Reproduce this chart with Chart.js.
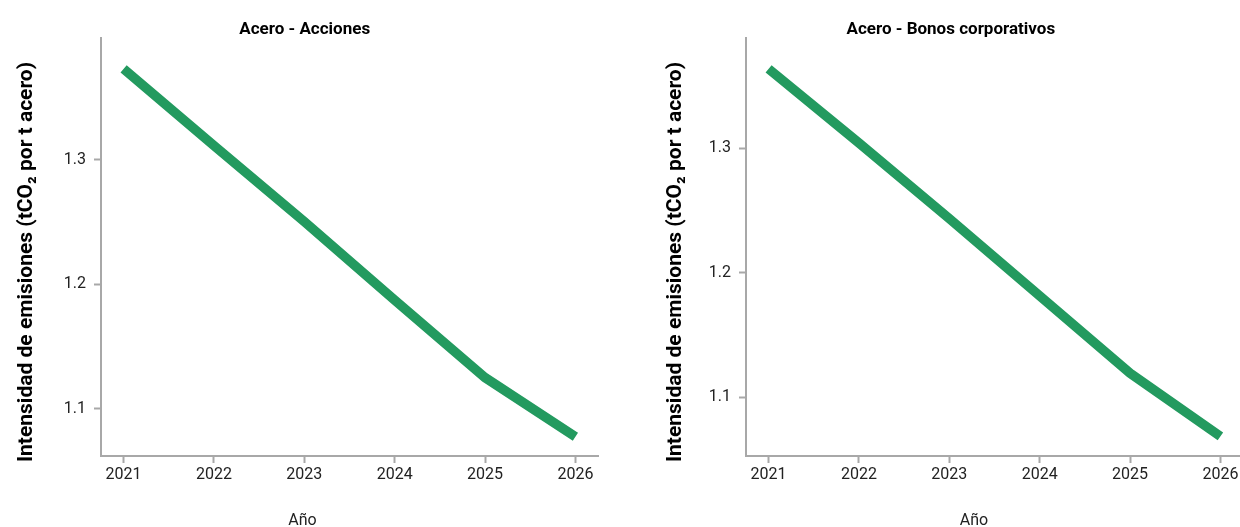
<!DOCTYPE html>
<html>
<head>
<meta charset="utf-8">
<script src="https://cdn.jsdelivr.net/npm/chart.js@4"></script>
<style>
  html, body { margin: 0; padding: 0; background: #fff; overflow: hidden; width: 1240px; height: 527px; }
  canvas { position: absolute; top: 0; }
  #c1 { left: 0; }
  #c2 { left: 620px; }
</style>
</head>
<body>
<canvas id="c1" width="620" height="527"></canvas>
<canvas id="c2" width="640" height="527"></canvas>
<script>
const years = [2021, 2022, 2023, 2024, 2025, 2026];
const accionesValues = [1.3732, 1.3116, 1.2504, 1.1874, 1.1252, 1.0776];
const bonosValues = [1.3638, 1.3043, 1.2436, 1.1815, 1.1194, 1.0687];
const yTickValues = [1.1, 1.2, 1.3];
const panelTitles = ['Acero - Acciones', 'Acero - Bonos corporativos'];
const yAxisTitle = 'Intensidad de emisiones (tCO\u2082 por t acero)';
const xAxisTitle = 'Año';

const GREEN = '#239a5f';
const AXIS = '#a8a8a8';
const FONT = 'Roboto';

function textPlugin(cfg) {
  return {
    id: 'panelTexts',
    afterDraw(chart) {
      const ctx = chart.ctx;
      ctx.save();
      ctx.fillStyle = '#000';
      ctx.textAlign = 'center';
      ctx.textBaseline = 'alphabetic';
      ctx.font = 'bold 17px ' + FONT;
      ctx.fillText(cfg.title, cfg.titleX, cfg.titleY);
      ctx.font = '16px ' + FONT;
      ctx.fillStyle = '#222';
      ctx.fillText(xAxisTitle, cfg.xTitleX, cfg.xTitleY);
      ctx.fillStyle = '#000';
      ctx.font = 'bold 21px ' + FONT;
      ctx.translate(cfg.yTitleX, cfg.yTitleY);
      ctx.rotate(-Math.PI / 2);
      ctx.fillText(yAxisTitle, 0, 0);
      ctx.restore();
    }
  };
}

function makeChart(id, values, cfg) {
  const pts = years.map((yr, i) => ({ x: yr, y: values[i] }));
  return new Chart(document.getElementById(id), {
    type: 'line',
    data: {
      datasets: [{
        data: pts,
        borderColor: GREEN,
        borderWidth: 9.5,
        borderCapStyle: 'butt',
        borderJoinStyle: 'miter',
        pointRadius: 0,
        tension: 0,
        fill: false
      }]
    },
    options: {
      responsive: false,
      animation: false,
      events: [],
      layout: { padding: { top: 38, right: cfg.padRight, left: 0, bottom: 0 } },
      plugins: { legend: { display: false }, title: { display: false }, tooltip: { enabled: false } },
      scales: {
        x: {
          type: 'linear',
          min: 2020.75,
          max: 2026.25,
          afterFit(s) { s.height = 71; },
          afterBuildTicks(s) { s.ticks = years.map(v => ({ value: v })); },
          border: { display: true, color: AXIS, width: 2 },
          grid: { drawOnChartArea: false, drawTicks: true, tickLength: 7, tickWidth: 2, tickColor: AXIS },
          ticks: {
            color: '#222',
            font: { family: FONT, size: 16 },
            padding: 2,
            maxRotation: 0,
            autoSkip: false,
            callback: v => String(v)
          }
        },
        y: {
          type: 'linear',
          min: cfg.yMin,
          max: cfg.yMax,
          afterFit(s) { s.width = cfg.yWidth; },
          afterBuildTicks(s) { s.ticks = yTickValues.map(v => ({ value: v })); },
          border: { display: true, color: AXIS, width: 2 },
          grid: { drawOnChartArea: false, drawTicks: true, tickLength: 7, tickWidth: 2, tickColor: AXIS },
          ticks: {
            color: '#222',
            font: { family: FONT, size: 16 },
            padding: 8,
            callback: v => v.toFixed(1)
          }
        }
      }
    },
    plugins: [textPlugin(cfg)]
  });
}

makeChart('c1', accionesValues, {
  title: panelTitles[0], titleX: 304.7, titleY: 33.5,
  xTitleX: 302.4, xTitleY: 525,
  yTitleX: 31.5, yTitleY: 262,
  yWidth: 101, padRight: 22,
  yMin: 1.0622, yMax: 1.3980
});
makeChart('c2', bonosValues, {
  title: panelTitles[1], titleX: 330.8, titleY: 33.5,
  xTitleX: 353.9, xTitleY: 525,
  yTitleX: 60.5, yTitleY: 262,
  yWidth: 126, padRight: 17,
  yMin: 1.0529, yMax: 1.3886
});
</script>
</body>
</html>
